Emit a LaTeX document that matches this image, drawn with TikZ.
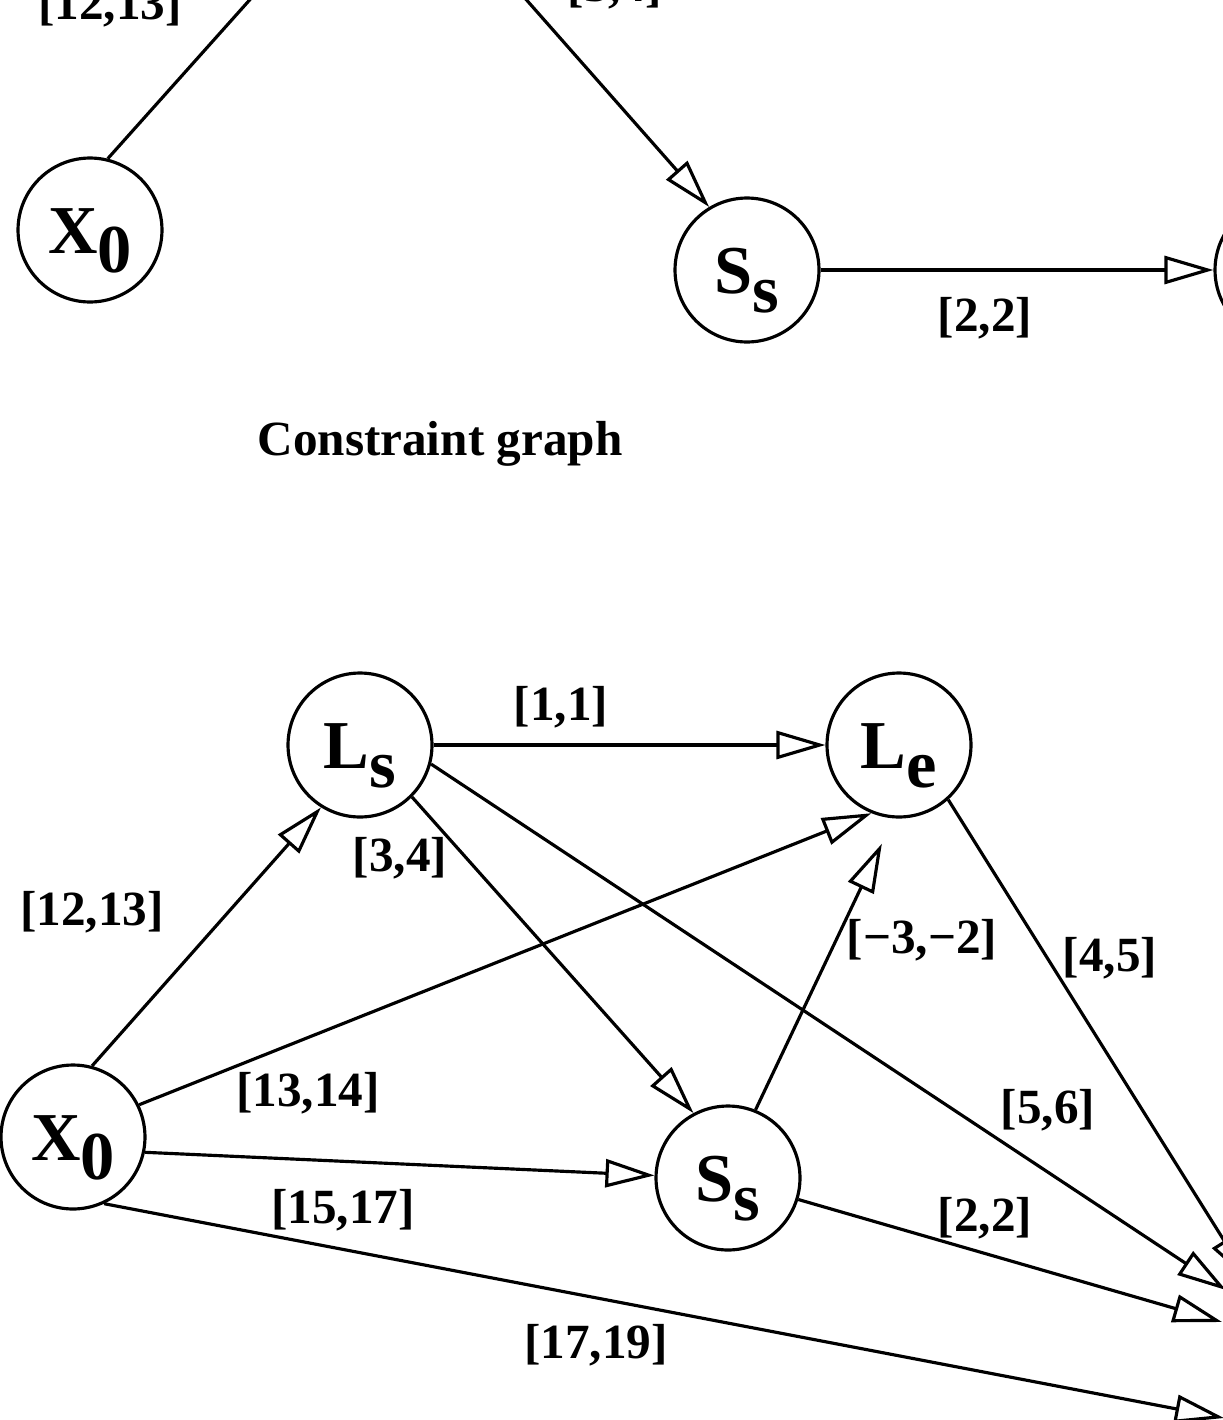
\documentclass[tikz,border=0pt]{standalone}
\usepackage{fontspec}
\setmainfont{Liberation Serif}
\usetikzlibrary{arrows.meta}

\newcommand{\lowsub}[1]{\raisebox{-0.28em}{#1}}

\begin{document}
\begin{tikzpicture}[
    x=0.02cm, y=-0.02cm,
    st/.style={draw, circle, line width=1.8pt, minimum size=2.88cm, inner sep=0pt,
      text height=1.3cm, text depth=0.38cm,
      font=\fontsize{39}{39}\selectfont\bfseries},
    lbl/.style={font=\fontsize{28}{28}\selectfont\bfseries, inner sep=0pt},
    edgearr/.style={line width=1.8pt, -{Triangle[open, length=0.98cm, width=0.56cm]}}
  ]
  \useasboundingbox (0,0) rectangle (1223,1420);
  \clip (0,0) rectangle (1223,1420);

  % top graph (cut by the frame)
  \node[st] (tX0) at (90,230) {X\lowsub{0}};
  \node[st] (tLs) at (389,-156) {L\lowsub{s}};
  \node[st] (tSs) at (747,270) {S\lowsub{s}};
  \node[st] (tRt) at (1287,270) {};

  \draw[edgearr] (tX0.76) -- (tLs);
  \draw[edgearr] (tLs) -- (tSs.121);
  \draw[edgearr] (tSs.east) -- (tRt.west);

  \node[lbl] (tl1213) at (110,6) {[12,13]};
  \node[lbl] (tl34) at (615,-12) {[3,4]};
  \node[lbl] (tl22) at (985,318) {[2,2]};

  \node[font=\fontsize{28}{28}\selectfont\bfseries] (cap) at (440,444) {Constraint graph};

  % constraint graph
  \node[st] (X0) at (73,1137) {X\lowsub{0}};
  \node[st] (Ls) at (360,745) {L\lowsub{s}};
  \node[st] (Le) at (899,745) {L\lowsub{e}};
  \node[st] (Ss) at (728,1178) {S\lowsub{s}};
  \coordinate (e0) at (1250,1282);
  \coordinate (e1) at (1226,1290);
  \coordinate (e2) at (1222,1322);
  \coordinate (e3) at (1224,1418);

  \draw[edgearr] (X0.75) -- (Ls.-122);
  \draw[edgearr] (Ls.east) -- (Le.west);
  \draw[edgearr] (Ls.-45) -- (Ss.118);
  \draw[edgearr] (Ls.-15) -- (e1);
  \draw[edgearr] (X0.26) -- (Le.-112);
  \draw[edgearr, shorten >=0.56cm] (Ss.68) -- (Le.-94);
  \draw[edgearr] (Le.-48) -- (e0);
  \draw[edgearr] (X0.-12) -- (Ss.178);
  \draw[edgearr] (X0.-65) -- (e3);
  \draw[edgearr] (Ss.-17) -- (e2);

  % labels
  \node[lbl] (l11) at (561,707) {[1,1]};
  \node[lbl] (l1213) at (92,912) {[12,13]};
  \node[lbl] (l34) at (400,858) {[3,4]};
  \node[lbl] (l32) at (922,940) {[−3,−2]};
  \node[lbl] (l45) at (1110,958) {[4,5]};
  \node[lbl] (l1314) at (308,1093) {[13,14]};
  \node[lbl] (l56) at (1048,1110) {[5,6]};
  \node[lbl] (l1517) at (343,1210) {[15,17]};
  \node[lbl] (l22) at (985,1218) {[2,2]};
  \node[lbl] (l1719) at (596,1345) {[17,19]};
\end{tikzpicture}
\end{document}
